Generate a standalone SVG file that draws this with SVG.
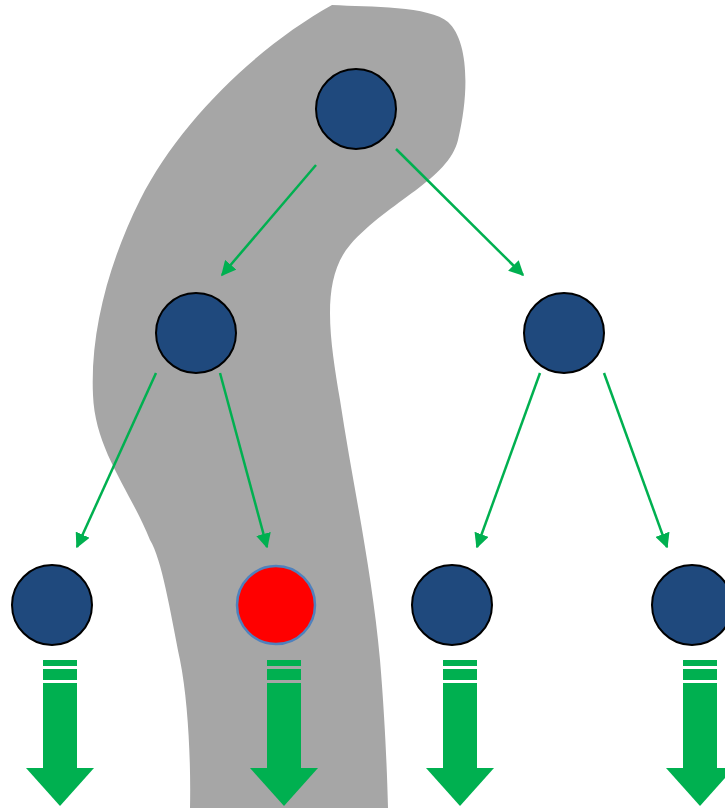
<svg xmlns="http://www.w3.org/2000/svg" width="725" height="808" viewBox="0 0 725 808">
<style>
.node{fill:#1f497d;stroke:#000;stroke-width:2}
.hl{fill:#ff0000;stroke:#4f81bd;stroke-width:2.5}
.edge{stroke:#00b050;stroke-width:2.5;fill:none;marker-end:url(#ah)}
.big{fill:#00b050}
</style>
<defs>
<marker id="ah" viewBox="0 0 10 10" refX="9" refY="5" markerWidth="6" markerHeight="6" markerUnits="strokeWidth" orient="auto">
<path d="M0,0 L10,5 L0,10 z" fill="#00b050"/>
</marker>
<g id="bigarrow">
<rect x="-17" y="660" width="34" height="6"/>
<rect x="-17" y="669" width="34" height="11"/>
<rect x="-17" y="683" width="34" height="86"/>
<path d="M-34,768 L34,768 L0,806 z"/>
</g>
</defs>
<path id="band" fill="#a6a6a6" d="M332,5 C370,7 430,6 448,22 C468,40 470,90 458,140 C448,180 390,200 350,245 C320,280 330,340 340,400 C352,480 372,570 380,660 C385,720 387,770 388,808 L190,808 C191,760 188,700 180,660 C170,610 162,560 150,540 C130,490 95,450 93,395 C90,330 110,260 140,200 C180,120 260,45 332,5 z"/>
<g id="connectors">
<line class="edge" x1="316" y1="165" x2="222" y2="275"/>
<line class="edge" x1="396" y1="149" x2="523" y2="275"/>
<line class="edge" x1="156" y1="373" x2="77" y2="547"/>
<line class="edge" x1="220" y1="373" x2="267" y2="547"/>
<line class="edge" x1="540" y1="373" x2="477" y2="547"/>
<line class="edge" x1="604" y1="373" x2="667" y2="547"/>
</g>
<g id="n1"><circle class="node" cx="356" cy="109" r="40"/></g>
<g id="n2"><circle class="node" cx="196" cy="333" r="40"/></g>
<g id="n3"><circle class="node" cx="564" cy="333" r="40"/></g>
<g id="n4"><circle class="node" cx="52" cy="605" r="40"/></g>
<g id="n5"><circle class="hl" cx="276" cy="605" r="39"/></g>
<g id="n6"><circle class="node" cx="452" cy="605" r="40"/></g>
<g id="n7"><circle class="node" cx="692" cy="605" r="40"/></g>
<g id="outputs" class="big">
<use href="#bigarrow" x="60"/>
<use href="#bigarrow" x="284"/>
<use href="#bigarrow" x="460"/>
<use href="#bigarrow" x="700"/>
</g>
</svg>
